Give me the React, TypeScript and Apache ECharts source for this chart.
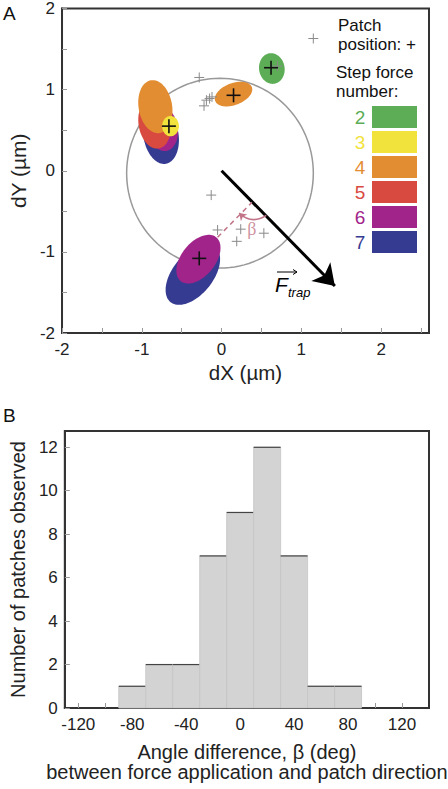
import React, { useEffect, useRef } from "react";
import * as echarts from "echarts";

const FONT = "'Liberation Sans', Arial, Helvetica, sans-serif";

// ---------- Panel A data ----------
const stepNumbers = [2, 3, 4, 5, 6, 7];
const stepColors = ["#5cad55", "#f2e23c", "#e38d33", "#d84a3f", "#a1248a", "#363b92"];

// ellipse footprints: [step, centerX, centerY, semiMajor, semiMinor, angleDeg]
const ellipses: number[][] = [
  [7, -0.76, 0.44, 0.36, 0.22, 100],
  [6, -0.74, 0.52, 0.28, 0.19, 100],
  [5, -0.84, 0.58, 0.31, 0.2, 100],
  [4, -0.83, 0.79, 0.33, 0.21, 100],
  [3, -0.64, 0.55, 0.125, 0.105, 90],
  [4, 0.15, 0.945, 0.245, 0.135, 20],
  [2, 0.63, 1.26, 0.19, 0.16, 100],
  [7, -0.36, -1.28, 0.44, 0.25, 50],
  [6, -0.29, -1.09, 0.35, 0.21, 50],
];

const grayPatchX = [1.15, -0.28, -0.19, -0.22, -0.15, -0.12, 0.70, -0.13, -0.05, 0.24, 0.53, 0.19];
const grayPatchY = [1.63, 1.15, 0.87, 0.80, 0.89, 0.91, 1.29, -0.30, -0.73, -0.72, -0.77, -0.87];
const blackPatchX = [0.62, 0.15, -0.66, -0.28];
const blackPatchY = [1.27, 0.93, 0.55, -1.08];

const trapCircle = [-0.02, -0.03, 1.17]; // cx, cy, r
const forceArrow = [[0, 0], [1.42, -1.42]];
const betaLine = [[-0.05, -0.82], [0.38, -0.39]];
const betaArc = [[0.56, -0.55], [0.22, -0.52]];
const betaLabelPos = [0.38, -0.72];

const xTicksA = [-2, -1.5, -1, -0.5, 0, 0.5, 1, 1.5, 2, 2.5];
const xLabelsA = [-2, -1, 0, 1, 2];
const yTicksA = [-2, -1.5, -1, -0.5, 0, 0.5, 1, 1.5, 2];
const yLabelsA = [-2, -1, 0, 1, 2];

// ---------- Panel B data ----------
const binStart = [-90, -70, -50, -30, -10, 10, 30, 50, 70];
const binWidth = 20;
const binCounts = [1, 2, 2, 7, 9, 12, 7, 1, 1];
const xTicksB = [-120, -100, -80, -60, -40, -20, 0, 20, 40, 60, 80, 100, 120];
const xLabelsB = [-120, -80, -40, 0, 40, 80, 120];
const yLabelsB = [0, 2, 4, 6, 8, 10, 12];

const PINK = "#c27589";

function colorOf(step: number) {
  return stepColors[stepNumbers.indexOf(step)];
}

export default function App() {
  const ref = useRef<HTMLDivElement>(null);
  useEffect(() => {
    if (!ref.current) return;
    const chart = echarts.init(ref.current, undefined, { renderer: "svg" });

    const axisCommon = {
      axisLine: { show: true, onZero: false, lineStyle: { color: "#333", width: 2 } },
      splitLine: { show: false },
      nameLocation: "middle" as const,
    };

    const plusRender = (half: number, color: string, width: number) => (params: any, api: any) => {
      const p = api.coord([api.value(0), api.value(1)]);
      return {
        type: "group",
        children: [
          { type: "line", shape: { x1: p[0] - half, y1: p[1], x2: p[0] + half, y2: p[1] }, style: { stroke: color, lineWidth: width } },
          { type: "line", shape: { x1: p[0], y1: p[1] - half, x2: p[0], y2: p[1] + half }, style: { stroke: color, lineWidth: width } },
        ],
      };
    };

    const legendGraphics: any[] = [];
    stepNumbers.forEach((n, i) => {
      const y = 106 + i * 25;
      legendGraphics.push({
        type: "rect",
        shape: { x: 372, y, width: 45, height: 22 },
        style: { fill: stepColors[i] },
      });
      legendGraphics.push({
        type: "text",
        style: { x: 360, y: y + 11, text: String(n), fill: stepColors[i], font: `19px ${FONT}`, align: "center", verticalAlign: "middle" },
      });
    });

    const option: any = {
      animation: false,
      textStyle: { fontFamily: FONT },
      grid: [
        { left: 53, top: 5, width: 376, height: 328, show: true, borderColor: "#333", borderWidth: 2, backgroundColor: "transparent" },
        { left: 53, top: 431, width: 376, height: 277, show: true, borderColor: "#333", borderWidth: 2, backgroundColor: "transparent" },
      ],
      xAxis: [
        {
          ...axisCommon,
          type: "value", gridIndex: 0, min: -2, max: 2.6,
          axisTick: { show: true, inside: true, length: 5, customValues: xTicksA, lineStyle: { color: "#999" } },
          axisLabel: { customValues: xLabelsA, fontSize: 17, color: "#222", margin: 8 },
          name: "dX (µm)", nameGap: 29, nameTextStyle: { fontSize: 20.5, color: "#222" },
        },
        {
          ...axisCommon,
          type: "value", gridIndex: 1, min: -130, max: 140,
          axisTick: { show: true, inside: true, length: 5, customValues: xTicksB, lineStyle: { color: "#999" } },
          axisLabel: { customValues: xLabelsB, fontSize: 17, color: "#222", margin: 8 },
          name: "Angle difference, β (deg)\nbetween force application and patch direction",
          nameGap: 34, nameTextStyle: { fontSize: 20, color: "#222", lineHeight: 20 },
        },
      ],
      yAxis: [
        {
          ...axisCommon,
          type: "value", gridIndex: 0, min: -2, max: 2,
          axisTick: { show: true, inside: true, length: 5, customValues: yTicksA, lineStyle: { color: "#999" } },
          axisLabel: { customValues: yLabelsA, fontSize: 17, color: "#222", margin: 7 },
          name: "dY (µm)", nameGap: 33, nameTextStyle: { fontSize: 21, color: "#222" },
        },
        {
          ...axisCommon,
          type: "value", gridIndex: 1, min: 0, max: 12.75,
          axisTick: { show: true, inside: true, length: 5, customValues: yLabelsB, lineStyle: { color: "#999" } },
          axisLabel: { customValues: yLabelsB, fontSize: 17, color: "#222", margin: 7 },
          name: "Number of patches observed", nameGap: 33, nameTextStyle: { fontSize: 20, color: "#222" },
        },
      ],
      series: [
        {
          type: "custom",
          xAxisIndex: 0, yAxisIndex: 0,
          data: ellipses.map((e) => [e[1], e[2]]),
          renderItem: (params: any, api: any) => {
            const [step, cx, cy, a, b, ang] = ellipses[params.dataIndex];
            const th = (ang * Math.PI) / 180;
            const pts: number[][] = [];
            for (let k = 0; k < 90; k++) {
              const t = (2 * Math.PI * k) / 90;
              const ex = a * Math.cos(t);
              const ey = b * Math.sin(t);
              pts.push(api.coord([cx + ex * Math.cos(th) - ey * Math.sin(th), cy + ex * Math.sin(th) + ey * Math.cos(th)]));
            }
            return { type: "polygon", shape: { points: pts }, style: { fill: colorOf(step) } };
          },
          z: 2,
        },
        {
          type: "custom",
          xAxisIndex: 0, yAxisIndex: 0,
          data: [[trapCircle[0], trapCircle[1]]],
          renderItem: (params: any, api: any) => {
            const [cx, cy, r] = trapCircle;
            const pts: number[][] = [];
            for (let k = 0; k <= 120; k++) {
              const t = (2 * Math.PI * k) / 120;
              pts.push(api.coord([cx + r * Math.cos(t), cy + r * Math.sin(t)]));
            }
            return { type: "polyline", shape: { points: pts }, style: { fill: "none", stroke: "#999", lineWidth: 1.5 } };
          },
          z: 1,
        },
        {
          type: "custom",
          xAxisIndex: 0, yAxisIndex: 0,
          data: grayPatchX.map((x, i) => [x, grayPatchY[i]]),
          renderItem: plusRender(5, "#8a8a8a", 1),
          z: 3,
        },
        {
          type: "custom",
          xAxisIndex: 0, yAxisIndex: 0,
          data: blackPatchX.map((x, i) => [x, blackPatchY[i]]),
          renderItem: plusRender(7, "#111", 1.6),
          z: 4,
        },
        {
          type: "lines",
          coordinateSystem: "cartesian2d",
          xAxisIndex: 0, yAxisIndex: 0,
          symbol: ["none", "arrow"],
          symbolSize: 20,
          lineStyle: { color: "#000", width: 3, opacity: 1 },
          data: [{ coords: forceArrow }],
          z: 5,
        },
        {
          type: "lines",
          coordinateSystem: "cartesian2d",
          xAxisIndex: 0, yAxisIndex: 0,
          symbol: ["none", "none"],
          lineStyle: { color: PINK, width: 1.5, opacity: 1, type: [5, 4] },
          data: [{ coords: betaLine }],
          z: 5,
        },
        {
          type: "lines",
          coordinateSystem: "cartesian2d",
          xAxisIndex: 0, yAxisIndex: 0,
          symbol: ["none", "arrow"],
          symbolSize: 7,
          lineStyle: { color: PINK, width: 1.5, opacity: 1, curveness: 0.4 },
          data: [{ coords: betaArc }],
          z: 5,
        },
        {
          type: "scatter",
          xAxisIndex: 0, yAxisIndex: 0,
          symbolSize: 0,
          data: [betaLabelPos],
          label: { show: true, position: "inside", formatter: "β", color: PINK, fontSize: 18, fontFamily: "'Liberation Serif', serif" },
          z: 5,
        },
        {
          type: "custom",
          xAxisIndex: 1, yAxisIndex: 1,
          data: binStart.map((s, i) => [s, binCounts[i]]),
          renderItem: (params: any, api: any) => {
            const s = api.value(0);
            const c = api.value(1);
            const p0 = api.coord([s, 0]);
            const p1 = api.coord([s + binWidth, c]);
            return {
              type: "group",
              children: [
                { type: "rect", shape: { x: p0[0], y: p1[1], width: p1[0] - p0[0], height: p0[1] - p1[1] }, style: { fill: "#d3d3d3", stroke: "#c4c4c4", lineWidth: 0.8 } },
                { type: "line", shape: { x1: p0[0], y1: p1[1], x2: p1[0], y2: p1[1] }, style: { stroke: "#444", lineWidth: 1.2 } },
              ],
            };
          },
        },
      ],
      graphic: [
        { type: "text", style: { x: 3, y: 4, text: "A", font: `19px ${FONT}`, fill: "#111" } },
        { type: "text", style: { x: 3, y: 406, text: "B", font: `19px ${FONT}`, fill: "#111" } },
        { type: "text", style: { x: 338, y: 25, text: "Patch", font: `17px ${FONT}`, fill: "#111", verticalAlign: "middle" } },
        { type: "text", style: { x: 338, y: 44, text: "position: +", font: `17px ${FONT}`, fill: "#111", verticalAlign: "middle" } },
        { type: "text", style: { x: 336, y: 72, text: "Step force", font: `17px ${FONT}`, fill: "#111", verticalAlign: "middle" } },
        { type: "text", style: { x: 336, y: 91, text: "number:", font: `17px ${FONT}`, fill: "#111", verticalAlign: "middle" } },
        ...legendGraphics,
        { type: "text", style: { x: 275, y: 284, text: "F", font: `italic 21px ${FONT}`, fill: "#000", verticalAlign: "middle" } },
        { type: "text", style: { x: 288, y: 292, text: "trap", font: `italic 13px ${FONT}`, fill: "#000", verticalAlign: "middle" } },
        { type: "line", shape: { x1: 277, y1: 272, x2: 297, y2: 272 }, style: { stroke: "#000", lineWidth: 1 } },
        { type: "polyline", shape: { points: [[293, 269.5], [297, 272], [293, 274.5]] }, style: { stroke: "#000", fill: "none", lineWidth: 1 } },
      ],
    };
    chart.setOption(option);
    return () => chart.dispose();
  }, []);
  return <div ref={ref} style={{ position: "absolute", left: 0, top: 0, width: 448, height: 789 }} />;
}
